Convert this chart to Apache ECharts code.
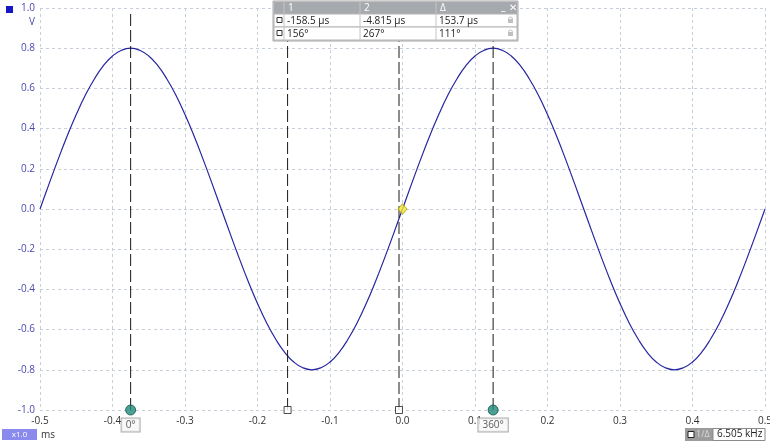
<!DOCTYPE html>
<html><head><meta charset="utf-8">
<script src="https://cdn.jsdelivr.net/npm/echarts@6/dist/echarts.min.js"></script>
<style>html,body{margin:0;padding:0;background:#fff}#c{width:770px;height:441px}</style>
</head><body><div id="c"></div>
<script>
// Channel A capture: time in ms, amplitude in volts
const timeMs = [-0.5,-0.4875,-0.475,-0.4625,-0.45,-0.4375,-0.425,-0.4125,-0.4,-0.3875,-0.375,-0.3625,-0.35,-0.3375,-0.325,-0.3125,
  -0.3,-0.2875,-0.275,-0.2625,-0.25,-0.2375,-0.225,-0.2125,-0.2,-0.1875,-0.175,-0.1625,-0.15,-0.1375,-0.125,-0.1125,
  -0.1,-0.0875,-0.075,-0.0625,-0.05,-0.0375,-0.025,-0.0125,0,0.0125,0.025,0.0375,0.05,0.0625,0.075,0.0875,
  0.1,0.1125,0.125,0.1375,0.15,0.1625,0.175,0.1875,0.2,0.2125,0.225,0.2375,0.25,0.2625,0.275,0.2875,
  0.3,0.3125,0.325,0.3375,0.35,0.3625,0.375,0.3875,0.4,0.4125,0.425,0.4375,0.45,0.4625,0.475,0.4875,0.5];
const volts = [0,0.125,0.247,0.363,0.47,0.566,0.647,0.713,0.761,0.79,0.8,0.79,0.761,0.713,0.647,0.566,
  0.47,0.363,0.247,0.125,0,-0.125,-0.247,-0.363,-0.47,-0.566,-0.647,-0.713,-0.761,-0.79,-0.8,-0.79,
  -0.761,-0.713,-0.647,-0.566,-0.47,-0.363,-0.247,-0.125,0,0.125,0.247,0.363,0.47,0.566,0.647,0.713,
  0.761,0.79,0.8,0.79,0.761,0.713,0.647,0.566,0.47,0.363,0.247,0.125,0,-0.125,-0.247,-0.363,
  -0.47,-0.566,-0.647,-0.713,-0.761,-0.79,-0.8,-0.79,-0.761,-0.713,-0.647,-0.566,-0.47,-0.363,-0.247,-0.125,0];

// Phase rulers and time cursors (ms)
const phaseRulers = [-0.375, 0.125];
const phaseLabels = ['0°', '360°'];
const timeCursors = [-0.1585, -0.004815];
const triggerPoint = [0.0, 0.0];

// Cursor readout table
const tableHeader = ['1', '2', 'Δ'];
const tableRows = [['-158.5 µs', '-4.815 µs', '153.7 µs'], ['156°', '267°', '111°']];
const freqReadout = '6.505 kHz';
const unitV = 'V';
const unitT = 'ms';
const zoomLabel = 'x1.0';

const FONT = 'Open Sans';
const chart = echarts.init(document.getElementById('c'), null, {renderer: 'canvas'});

const series = [];
series.push({
  type: 'line', name: 'A', data: timeMs.map((t, i) => [t, volts[i]]),
  smooth: true, showSymbol: false, symbol: 'none',
  lineStyle: {color: '#2626a0', width: 1.2}, z: 3
});
phaseRulers.concat(timeCursors).forEach(x => {
  series.push({
    type: 'line', data: [[x, -1], [x, 0.99]], showSymbol: false, symbol: 'none', silent: true,
    lineStyle: {color: '#1a1a1a', width: 1, type: [12, 4]}, z: 4
  });
});
series.push({
  type: 'scatter', clip: false, symbol: 'circle', symbolSize: 10, z: 6,
  data: phaseRulers.map((x, i) => ({value: [x, -1], label: {formatter: phaseLabels[i]}})),
  itemStyle: {color: '#1f8a7c', borderColor: '#0e5048', borderWidth: 1},
  label: {show: true, position: 'bottom', distance: 3, color: '#333', fontSize: 10, fontFamily: FONT,
    backgroundColor: '#f7f7f7', borderColor: '#9a9a9a', borderWidth: 1, padding: [2, 4, 1, 4]}
});
series.push({
  type: 'scatter', clip: false, symbol: 'rect', symbolSize: 7, z: 6,
  data: timeCursors.map(x => [x, -1]),
  itemStyle: {color: '#ffffff', borderColor: '#222', borderWidth: 1}
});
series.push({
  type: 'scatter', clip: false, symbol: 'diamond', symbolSize: [9, 10], z: 7,
  data: [triggerPoint],
  itemStyle: {color: '#f2e83a', borderColor: '#b8a800', borderWidth: 1}
});

// Readout table graphics
const g = [];
const tx = 274, ty = 2;
const colX = [tx, tx + 10, tx + 86, tx + 162, tx + 243];
const rowY = [ty, ty + 12, ty + 25, ty + 38];
g.push({type: 'rect', shape: {x: tx - 1, y: ty - 1, width: 245, height: 40}, style: {fill: '#d6d6d6', stroke: '#a8a8a8'}, z: 100});
g.push({type: 'rect', shape: {x: tx, y: rowY[0], width: 243, height: 12}, style: {fill: '#a6aaae'}, z: 101});
tableHeader.forEach((h, i) => {
  g.push({type: 'text', x: colX[i + 1] + 4, y: rowY[0] + 6, style: {text: h, fill: '#fff', fontSize: 10, fontFamily: FONT, verticalAlign: 'middle'}, z: 102});
  g.push({type: 'line', shape: {x1: colX[i + 1], y1: rowY[0], x2: colX[i + 1], y2: rowY[3]}, style: {stroke: '#c4c4c4'}, z: 103});
});
g.push({type: 'text', x: 501, y: rowY[0] + 5, style: {text: '_', fill: '#fff', fontSize: 11, fontWeight: 'bold', fontFamily: FONT, verticalAlign: 'middle'}, z: 102});
g.push({type: 'text', x: 509, y: rowY[0] + 6, style: {text: '✕', fill: '#fff', fontSize: 10, fontWeight: 'bold', fontFamily: 'DejaVu Sans', verticalAlign: 'middle'}, z: 102});
tableRows.forEach((row, r) => {
  const y0 = rowY[r + 1], h = rowY[r + 2] - y0;
  g.push({type: 'rect', shape: {x: colX[0], y: y0, width: 243, height: h}, style: {fill: '#fff', stroke: '#b4b4b4'}, z: 101});
  g.push({type: 'rect', shape: {x: colX[0] + 3, y: y0 + 3.5, width: 5, height: 5}, style: {fill: '#fff', stroke: '#333'}, z: 103});
  row.forEach((cell, c) => {
    g.push({type: 'text', x: colX[c + 1] + 3, y: y0 + h / 2 + 0.5, style: {text: cell, fill: '#222', fontSize: 10, fontFamily: FONT, verticalAlign: 'middle'}, z: 103});
  });
  // lock glyph
  g.push({type: 'rect', shape: {x: 508, y: y0 + 5, width: 5, height: 4}, style: {fill: '#c0c0c0'}, z: 103});
  g.push({type: 'arc', shape: {cx: 510.5, cy: y0 + 5, r: 2, startAngle: Math.PI, endAngle: 2 * Math.PI}, style: {fill: 'none', stroke: '#c0c0c0'}, z: 103});
});

// Channel badge and units
g.push({type: 'rect', shape: {x: 6, y: 6, width: 7, height: 7}, style: {fill: '#1616c4'}, z: 100});
g.push({type: 'text', x: 35, y: 22, style: {text: unitV, fill: '#4a4ab0', fontSize: 10, fontFamily: FONT, align: 'right', verticalAlign: 'middle'}, z: 100});
g.push({type: 'rect', shape: {x: 2, y: 429, width: 35, height: 11}, style: {fill: '#8a8aee'}, z: 100});
g.push({type: 'text', x: 19.5, y: 434.5, style: {text: zoomLabel, fill: '#fff', fontSize: 8, fontFamily: FONT, align: 'center', verticalAlign: 'middle'}, z: 101});
g.push({type: 'text', x: 41, y: 435, style: {text: unitT, fill: '#333', fontSize: 10, fontFamily: FONT, verticalAlign: 'middle'}, z: 100});

// Frequency readout
g.push({type: 'rect', shape: {x: 685, y: 428, width: 28, height: 13}, style: {fill: '#9c9c9c'}, z: 100});
g.push({type: 'rect', shape: {x: 688, y: 431.5, width: 6, height: 6}, style: {fill: '#fff', stroke: '#222'}, z: 101});
g.push({type: 'text', x: 696, y: 434.5, style: {text: '1/Δ', fill: '#d8d8d8', fontSize: 9, fontFamily: FONT, verticalAlign: 'middle'}, z: 101});
g.push({type: 'rect', shape: {x: 713, y: 428.5, width: 52, height: 12}, style: {fill: '#fff', stroke: '#8a8a8a'}, z: 100});
g.push({type: 'text', x: 717, y: 434.5, style: {text: freqReadout, fill: '#222', fontSize: 10, fontFamily: FONT, verticalAlign: 'middle'}, z: 101});

chart.setOption({
  animation: false,
  backgroundColor: '#ffffff',
  grid: {left: 40, right: 5, top: 8, bottom: 31, outerBoundsMode: 'none', containLabel: false},
  xAxis: {
    type: 'value', min: -0.5, max: 0.5, interval: 0.1,
    axisLine: {show: false}, axisTick: {show: false},
    axisLabel: {color: '#333', fontSize: 10, fontFamily: FONT, margin: 6, formatter: v => v.toFixed(1)},
    splitLine: {show: true, lineStyle: {color: '#c6ceda', type: [3, 3], width: 1}}
  },
  yAxis: {
    type: 'value', min: -1, max: 1, interval: 0.2,
    axisLine: {show: false}, axisTick: {show: false},
    axisLabel: {color: '#4a4ab0', fontSize: 10, fontFamily: FONT, margin: 5, formatter: v => v.toFixed(1)},
    splitLine: {show: true, lineStyle: {color: '#c6ceda', type: [3, 3], width: 1}}
  },
  series: series,
  graphic: g
});
</script>
</body></html>
